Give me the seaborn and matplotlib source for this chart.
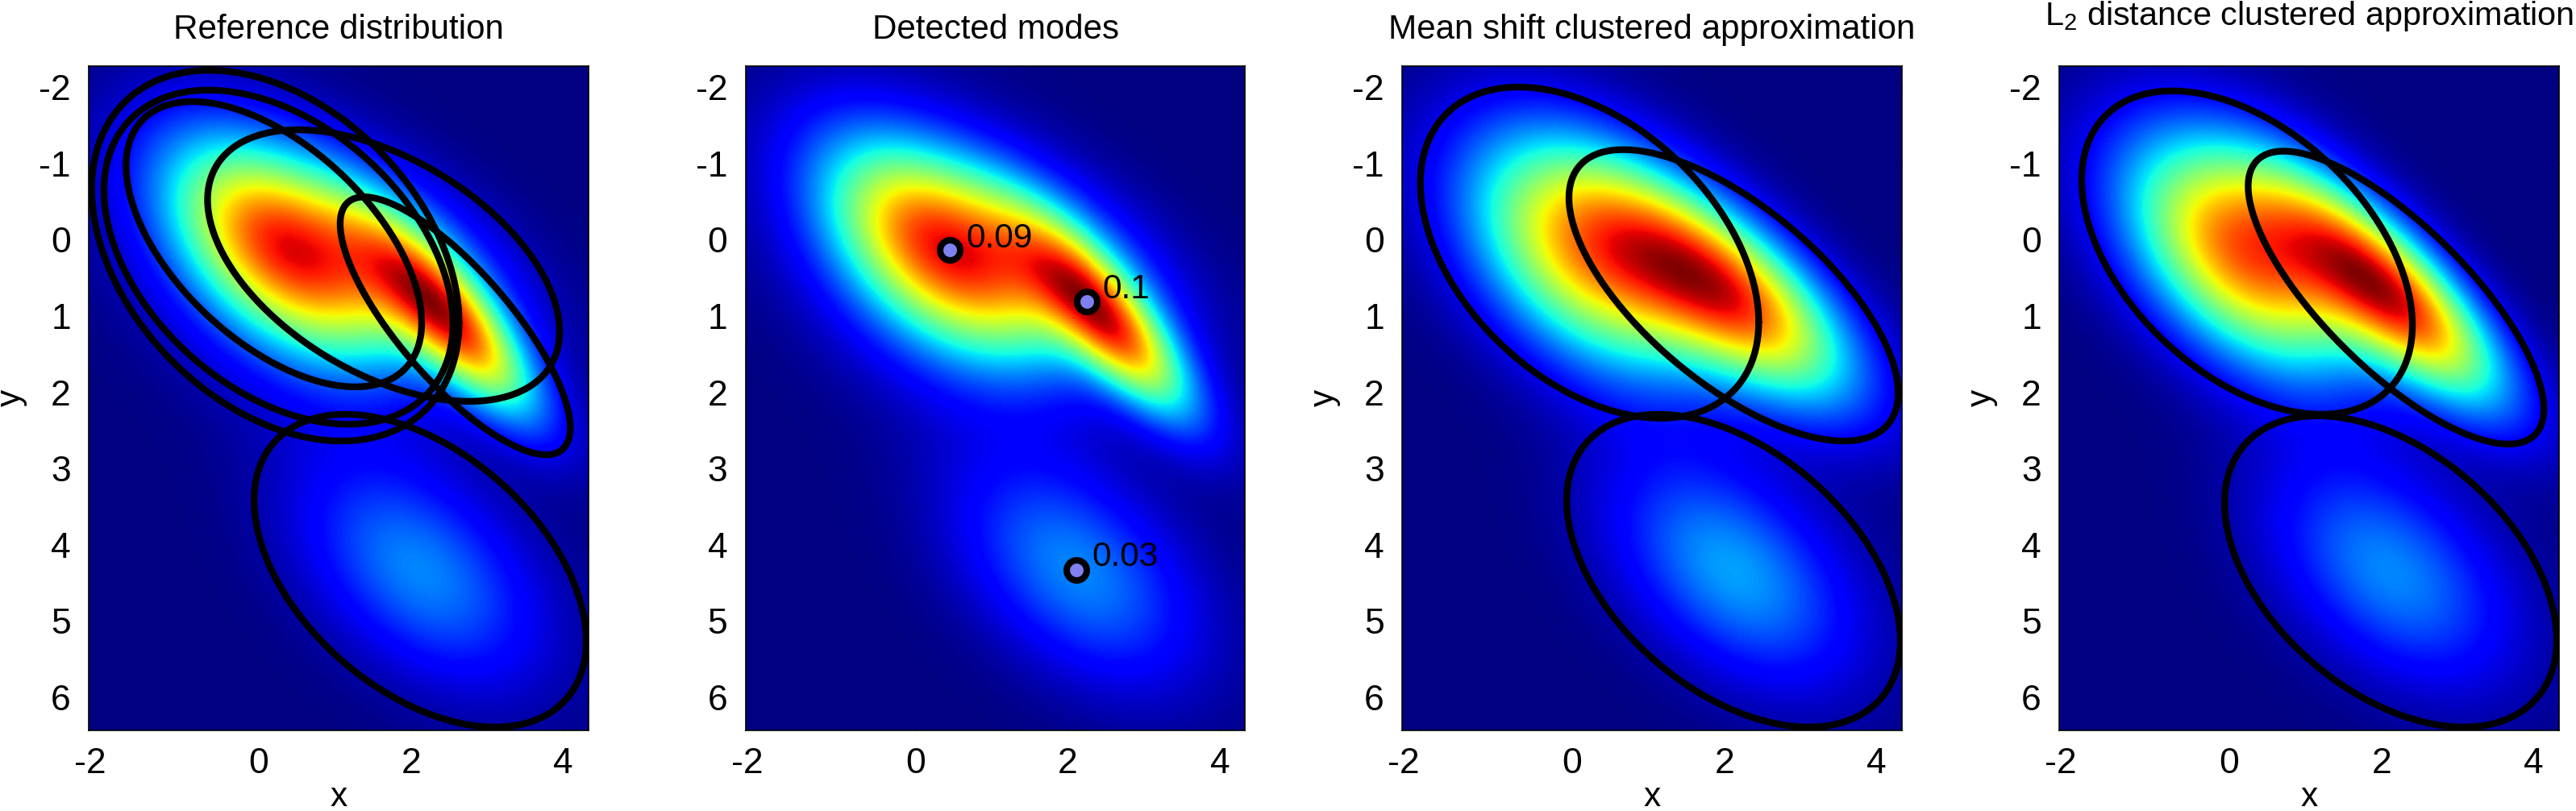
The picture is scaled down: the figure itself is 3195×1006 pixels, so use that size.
import numpy as np
import seaborn as sns
import matplotlib
matplotlib.use('Agg')
import matplotlib.pyplot as plt

# axis window and ticks
xmin, xmax = -2.23, 4.33
ymin, ymax = -2.28, 6.43
xticks = [-2, 0, 2, 4]
yticks = [-2, -1, 0, 1, 2, 3, 4, 5, 6]
titles = ['Reference distribution', 'Detected modes',
          'Mean shift clustered approximation',
          'L$_2$ distance clustered approximation']

# gaussian components, ellipses are the 2 sigma contours
# centre x, centre y, half width, half height, correlation, weight
ref_cx = [0.22, 0.26, 0.20, 1.64, 2.58, 2.12]
ref_cy = [0.21, 0.23, 0.06, 0.34, 1.13, 4.34]
ref_hx = [2.41, 2.29, 1.94, 2.31, 1.51, 2.18]
ref_hy = [2.43, 2.19, 1.87, 1.78, 1.69, 2.05]
ref_r = [0.36, 0.40, 0.55, 0.485, 0.79, 0.45]
ref_w = [0.14, 0.13, 0.19, 0.20, 0.16, 0.16]

ms_cx = [0.23, 2.12, 2.12]
ms_cy = [0.17, 0.73, 4.34]
ms_hx = [2.22, 2.16, 2.19]
ms_hy = [2.17, 1.91, 2.05]
ms_r = [0.42, 0.67, 0.45]
ms_w = [0.47, 0.35, 0.17]

l2_cx = [0.235, 2.19, 2.12]
l2_cy = [0.17, 0.76, 4.35]
l2_hx = [2.17, 1.94, 2.18]
l2_hy = [2.12, 1.92, 2.04]
l2_r = [0.45, 0.76, 0.44]
l2_w = [0.52, 0.30, 0.16]

# detected modes
mode_x = [0.45, 2.25, 2.11]
mode_y = [0.14, 0.81, 4.33]
mode_labels = ['0.09', '0.1', '0.03']
label_x = [0.664, 2.457, 2.32]
label_y = [0.10, 0.766, 4.28]

panel_lefts = [110, 924.5, 1739, 2554]

NX, NY = 310, 412


def density(cx, cy, hx, hy, r, w):
    xs = xmin + (np.arange(NX) + 0.5) / NX * (xmax - xmin)
    ys = ymin + (np.arange(NY) + 0.5) / NY * (ymax - ymin)
    X, Y = np.meshgrid(xs, ys)
    out = np.zeros_like(X)
    for i in range(len(cx)):
        sx, sy = hx[i] / 2, hy[i] / 2
        u = (X - cx[i]) / sx
        v = (Y - cy[i]) / sy
        q = (u * u - 2 * r[i] * u * v + v * v) / (1 - r[i] ** 2)
        out += w[i] * np.exp(-q / 2) / (2 * np.pi * sx * sy * np.sqrt(1 - r[i] ** 2))
    return out


# heatmap axes run in cell numbers
def to_col(x):
    return (np.asarray(x) - xmin) / (xmax - xmin) * NX


def to_row(y):
    return (np.asarray(y) - ymin) / (ymax - ymin) * NY


def draw_ellipses(ax, cx, cy, hx, hy, r):
    t = np.linspace(0, 2 * np.pi, 400)
    for i in range(len(cx)):
        ex = cx[i] + hx[i] * np.cos(t)
        ey = cy[i] + hy[i] * (r[i] * np.cos(t) + np.sqrt(1 - r[i] ** 2) * np.sin(t))
        ax.plot(to_col(ex), to_row(ey), color='black', lw=6)


sns.set_theme(style='white')
plt.rcParams['font.family'] = ['Liberation Sans', 'DejaVu Sans']
plt.rcParams['mathtext.default'] = 'regular'

fig = plt.figure(figsize=(31.95, 10.06), dpi=100, facecolor='white')
params = [(ref_cx, ref_cy, ref_hx, ref_hy, ref_r, ref_w),
          (ref_cx, ref_cy, ref_hx, ref_hy, ref_r, ref_w),
          (ms_cx, ms_cy, ms_hx, ms_hy, ms_r, ms_w),
          (l2_cx, l2_cy, l2_hx, l2_hy, l2_r, l2_w)]

for n, left in enumerate(panel_lefts):
    ax = fig.add_axes([left / 3195, 1 - 905.7 / 1006, 620 / 3195, 824.2 / 1006])
    cx, cy, hx, hy, r, w = params[n]
    sns.heatmap(density(cx, cy, hx, hy, r, w), cmap='jet', cbar=False, ax=ax,
                xticklabels=False, yticklabels=False)
    if n != 1:
        draw_ellipses(ax, cx, cy, hx, hy, r)
    else:
        sns.scatterplot(x=to_col(mode_x), y=to_row(mode_y), ax=ax, s=324,
                        color='#8080f0', edgecolor='black', linewidth=5.8, zorder=5)
        for i in range(3):
            ax.text(to_col(label_x[i]), to_row(label_y[i]), mode_labels[i],
                    fontsize=30.5, color='black', va='baseline', ha='left', zorder=6)
    ax.set_xlim(0, NX)
    ax.set_ylim(NY, 0)
    ax.set_xticks(to_col(xticks))
    ax.set_yticks(to_row(yticks))
    ax.set_xticklabels([str(v) for v in xticks], fontsize=32, rotation=0)
    ax.set_yticklabels([str(v) for v in yticks], fontsize=32, rotation=0)
    ax.get_xticklabels()[0].set_ha('right')
    ax.tick_params(axis='both', direction='in', length=5.8, width=1, color='black',
                   top=True, right=True, bottom=True, left=True, labelcolor='black')
    ax.tick_params(axis='x', pad=15)
    ax.tick_params(axis='y', pad=16)
    for s in ax.spines.values():
        s.set_visible(True)
        s.set_color('black')
        s.set_linewidth(1.2)
    ax.set_xlabel('x', fontsize=30.5, color='black', va='baseline')
    ax.set_ylabel('y', fontsize=30.5, color='black', va='baseline')
    ax.xaxis.set_label_coords(0.5, -(1000 - 905.7) / 824)
    ax.yaxis.set_label_coords(-(110 - 25) / 620, 0.5)
    # last title sits higher, the subscript pushes it up
    ty = 1 + (81.5 - 48) / 824 if n < 3 else 1 + (81.5 - 31) / 824
    fs = 30.3 if n < 3 else 29.8
    ax.text(0.5, ty, titles[n], transform=ax.transAxes, fontsize=fs, color='black',
            ha='center', va='baseline')

fig.savefig('out.png', dpi=100)
